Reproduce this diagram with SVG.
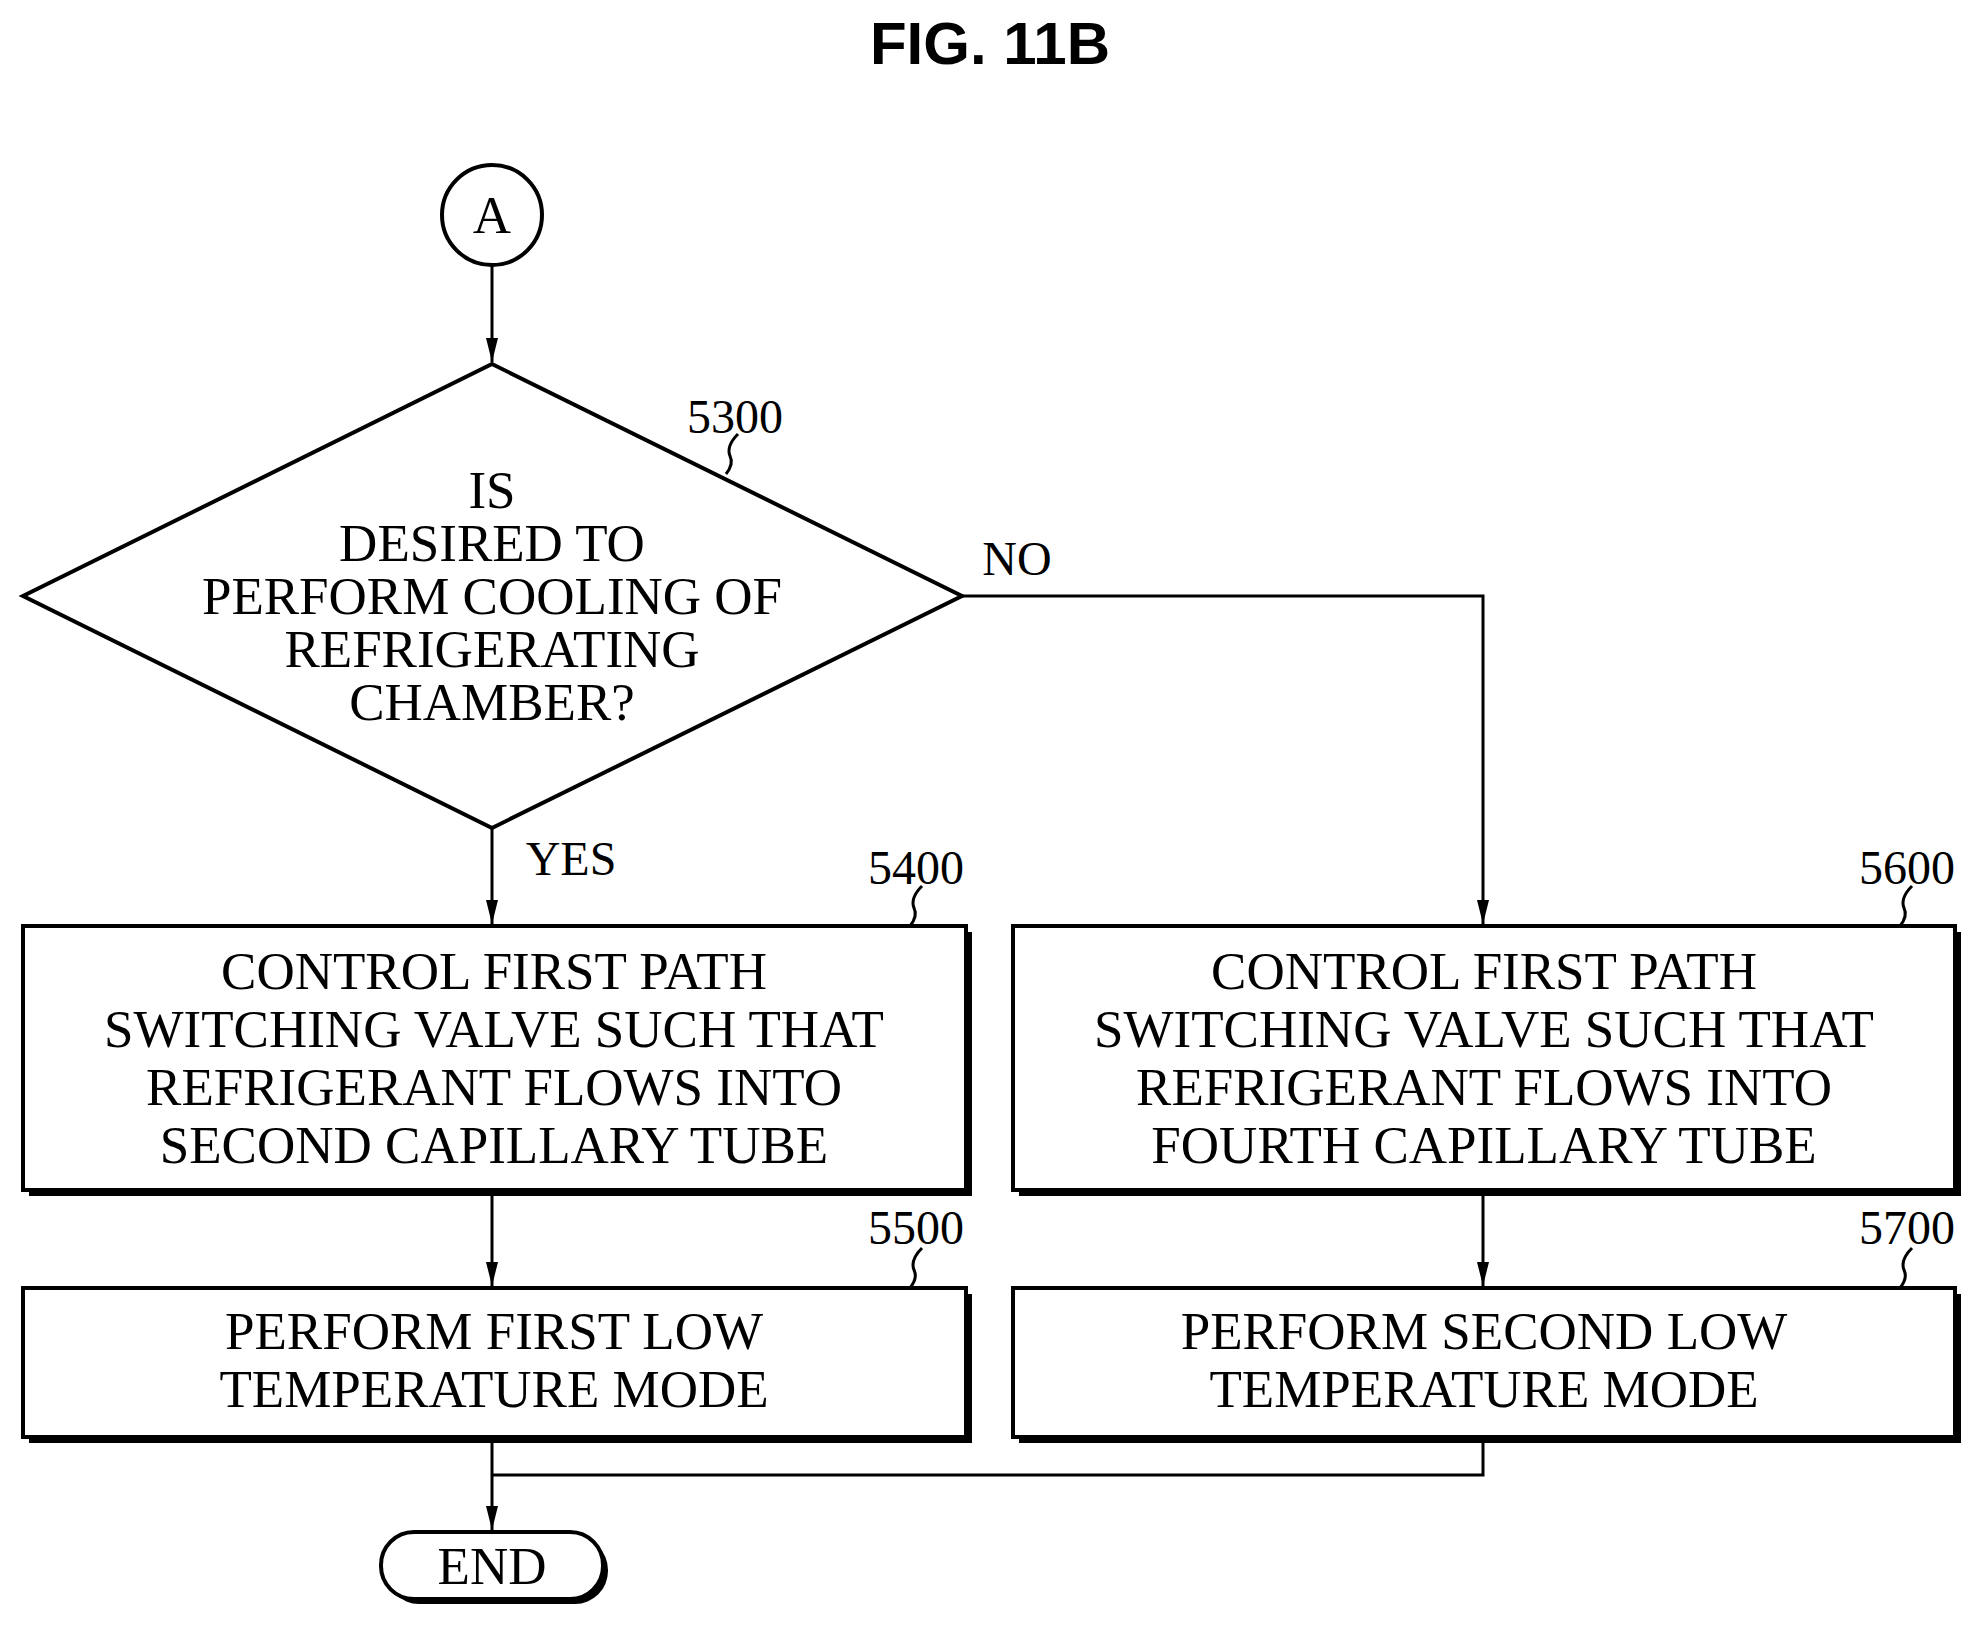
<svg xmlns="http://www.w3.org/2000/svg" width="1980" height="1627" viewBox="0 0 1980 1627">
<style>
.t{font-family:"Liberation Serif",serif;font-size:53px;text-anchor:middle;fill:#000}
.l{font-family:"Liberation Serif",serif;font-size:48px;text-anchor:middle;fill:#000}
.s{fill:#fff;stroke:#000;stroke-width:4}
.c{fill:none;stroke:#000;stroke-width:3}
</style>
<defs><marker id="a" markerWidth="12" markerHeight="24" refX="6" refY="24" orient="auto" markerUnits="userSpaceOnUse"><path d="M0,0 L6,24 L12,0 Z" transform="rotate(-90 6 12) translate(0 0)" fill="#000"/></marker>
<marker id="b" viewBox="0 0 24 12" markerWidth="24" markerHeight="12" refX="24" refY="6" orient="auto" markerUnits="userSpaceOnUse"><path d="M0,0 L24,6 L0,12 Z" fill="#000"/></marker></defs>
<text x="990" y="64" style="font-family:'Liberation Sans',sans-serif;font-weight:bold;font-size:60px;text-anchor:middle">FIG. 11B</text>
<g id="conn" class="c">
<path d="M492,266 V362" marker-end="url(#b)"/>
<path d="M492,828 V924" marker-end="url(#b)"/>
<path d="M962,596 H1483 V924" marker-end="url(#b)"/>
<path d="M492,1192 V1286" marker-end="url(#b)"/>
<path d="M1483,1192 V1286" marker-end="url(#b)"/>
<path d="M492,1439 V1530" marker-end="url(#b)"/>
<path d="M492,1475 H1483 V1439"/>
<path d="M726,474 q8,-10 4,-18 q-4,-10 8,-22"/>
<path d="M910,926 q8,-10 4,-18 q-4,-10 8,-22"/>
<path d="M1900,926 q8,-10 4,-18 q-4,-10 8,-22"/>
<path d="M910,1288 q8,-10 4,-18 q-4,-10 8,-22"/>
<path d="M1900,1288 q8,-10 4,-18 q-4,-10 8,-22"/>
</g>
<g id="A"><circle cx="492" cy="215" r="50" class="s"/><text class="t" x="492" y="233">A</text></g>
<g id="S300"><polygon points="492,364 962,596 492,828 23,596" class="s"/>
<text class="t" x="492" y="508">IS</text><text class="t" x="492" y="561">DESIRED TO</text><text class="t" x="492" y="614">PERFORM COOLING OF</text><text class="t" x="492" y="667">REFRIGERATING</text><text class="t" x="492" y="720">CHAMBER?</text>
<text class="l" x="735" y="433">5300</text><text class="l" x="1017" y="575">NO</text><text class="l" x="571" y="875">YES</text></g>
<g id="S400"><rect x="29" y="932" width="943" height="264" fill="#000"/><rect x="23" y="926" width="943" height="264" class="s"/>
<text class="t" x="494" y="989">CONTROL FIRST PATH</text><text class="t" x="494" y="1047">SWITCHING VALVE SUCH THAT</text><text class="t" x="494" y="1105">REFRIGERANT FLOWS INTO</text><text class="t" x="494" y="1163">SECOND CAPILLARY TUBE</text>
<text class="l" x="916" y="884">5400</text></g>
<g id="S600"><rect x="1019" y="932" width="942" height="264" fill="#000"/><rect x="1013" y="926" width="942" height="264" class="s"/>
<text class="t" x="1484" y="989">CONTROL FIRST PATH</text><text class="t" x="1484" y="1047">SWITCHING VALVE SUCH THAT</text><text class="t" x="1484" y="1105">REFRIGERANT FLOWS INTO</text><text class="t" x="1484" y="1163">FOURTH CAPILLARY TUBE</text>
<text class="l" x="1907" y="884">5600</text></g>
<g id="S500"><rect x="29" y="1294" width="943" height="149" fill="#000"/><rect x="23" y="1288" width="943" height="149" class="s"/>
<text class="t" x="494" y="1349">PERFORM FIRST LOW</text><text class="t" x="494" y="1407">TEMPERATURE MODE</text>
<text class="l" x="916" y="1244">5500</text></g>
<g id="S700"><rect x="1019" y="1294" width="942" height="149" fill="#000"/><rect x="1013" y="1288" width="942" height="149" class="s"/>
<text class="t" x="1484" y="1349">PERFORM SECOND LOW</text><text class="t" x="1484" y="1407">TEMPERATURE MODE</text>
<text class="l" x="1907" y="1244">5700</text></g>
<g id="END"><rect x="386" y="1537" width="222" height="67" rx="33" fill="#000"/><rect x="381" y="1532" width="222" height="67" rx="33" class="s"/><text class="t" x="492" y="1584">END</text></g>
</svg>
